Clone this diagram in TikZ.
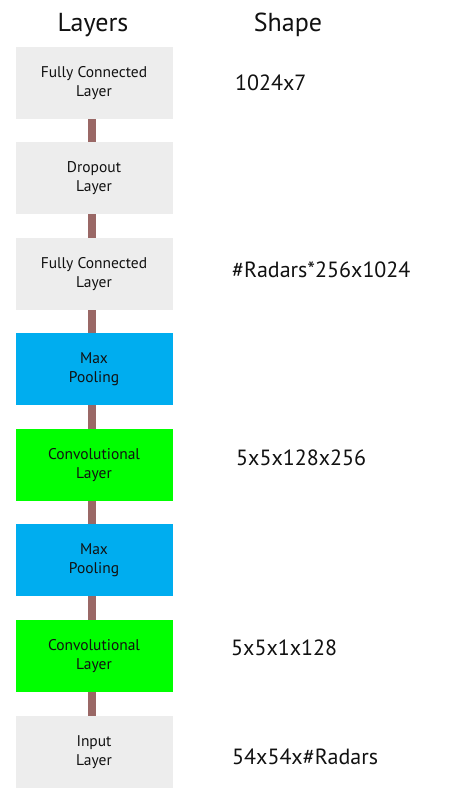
\documentclass[tikz,border=0pt]{standalone}
\usepackage{fontspec}
\setmainfont{PT Sans}
\definecolor{boxgray}{HTML}{EDEDED}
\definecolor{boxblue}{HTML}{00ADEF}
\definecolor{boxgreen}{HTML}{00FF00}
\definecolor{linkbrown}{HTML}{9A6866}
\definecolor{txt}{HTML}{111111}
\begin{document}
\begin{tikzpicture}[x=1pt,y=-1pt,
  layerbox/.style={minimum width=157pt,minimum height=72pt,inner sep=0pt,align=center,
    text=txt,font=\fontsize{15.5}{19}\selectfont},
  graybox/.style={layerbox,fill=boxgray},
  bluebox/.style={layerbox,fill=boxblue},
  greenbox/.style={layerbox,fill=boxgreen},
  link/.style={draw=linkbrown,line width=8pt},
  shapelabel/.style={anchor=base west,inner sep=0pt,text=txt,font=\fontsize{22}{24}\selectfont},
  title/.style={anchor=base,inner sep=0pt,text=txt,font=\fontsize{26}{30}\selectfont}]
\useasboundingbox[fill=white] (0,0) rectangle (459,808);
\node[title] (tl) at (93,32) {Layers};
\node[title] (ts) at (288,32) {Shape};
\node[graybox]  (b1) at (94,83)  {Fully Connected\\Layer};
\node[graybox]  (b2) at (94,178) {Dropout\\Layer};
\node[graybox]  (b3) at (94,274) {Fully Connected\\Layer};
\node[bluebox]  (b4) at (94,369) {Max\\Pooling};
\node[greenbox] (b5) at (94,465) {Convolutional\\Layer};
\node[bluebox]  (b6) at (94,560) {Max\\Pooling};
\node[greenbox] (b7) at (94,656) {Convolutional\\Layer};
\node[graybox]  (b8) at (94,752) {Input\\Layer};
\foreach \a/\b in {b1/b2,b2/b3,b3/b4,b4/b5,b5/b6,b6/b7,b7/b8}{
  \draw[link] ([xshift=-2pt]\a.south) -- ([xshift=-2pt]\b.north);
}
\node[shapelabel] (s1) at (235,90)  {1024x7};
\node[shapelabel] (s3) at (232,277) {\#Radars*256x1024};
\node[shapelabel] (s5) at (236,465) {5x5x128x256};
\node[shapelabel] (s7) at (231,655) {5x5x1x128};
\node[shapelabel] (s8) at (232,764) {54x54x\#Radars};
\end{tikzpicture}
\end{document}
